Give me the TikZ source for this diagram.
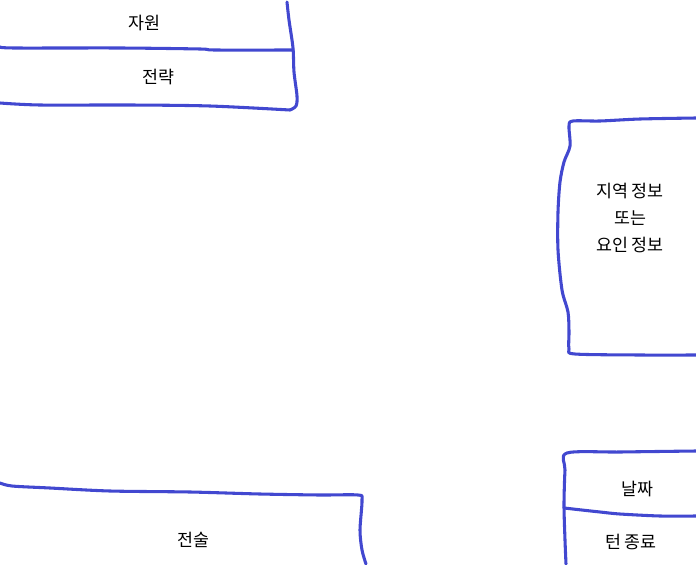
\documentclass[tikz,border=0pt]{standalone}
\usepackage{fontspec}
\setmainfont{Noto Sans CJK KR}
\usepackage{tikz}
\definecolor{penblue}{RGB}{66,72,208}
\tikzstyle{stroke} = [draw=penblue, line width=2.3pt, line cap=round, line join=round]
\tikzstyle{label} = [text=black, inner sep=0pt, font=\fontsize{13}{20.5}\selectfont, align=center]

\begin{document}
\begin{tikzpicture}[x=0.75pt, y=-0.75pt]
		\useasboundingbox (0,0) rectangle (696,564);
		
		% top left
		\draw [stroke] plot [smooth, tension=0.5] coordinates {(287,2) (289,20) (293,48) (294,72) (297,96) (296,106) (290,110)};
		\draw [stroke] plot [smooth, tension=0.5] coordinates {(0,47) (15,48) (120,48) (200,49) (215,50) (293,50)};
		\draw [stroke] plot [smooth, tension=0.5] coordinates {(0,103) (40,105) (130,105) (210,106) (290,110)};
		\node [label] (res) at (144,23) {자원};
		\node [label] (strat) at (158,77) {전략};
		
		% right middle
		\draw [stroke] plot [smooth, tension=0.5] coordinates {(696,118) (640,119) (600,121) (573,121) (569,126) (570,146) (564,162) (560,182) (558,212) (558,250) (562,290) (568,312) (569,332) (569,349) (575,354) (640,355) (696,355)};
		\node [label] (region) at (630,218) {지역 정보\\또는\\요인 정보};
		
		% bottom right
		\draw [stroke] plot [smooth, tension=0.5] coordinates {(696,451) (620,452) (567,453) (565,470) (564,505) (565,540) (566,564)};
		\draw [stroke] plot [smooth, tension=0.5] coordinates {(564,508) (600,512) (620,514) (660,516) (696,516)};
		\node [label] (date) at (637,489) {날짜};
		\node [label] (turn) at (631,542) {턴 종료};
		
		% bottom left
		\draw [stroke] plot [smooth, tension=0.5] coordinates {(0,483) (12,486) (50,488) (110,491) (190,492) (260,494) (320,495) (358,495) (362,500) (360,530) (362,550) (366,564)};
		\node [label] (tactics) at (193,540) {전술};
	\end{tikzpicture}
\end{document}
